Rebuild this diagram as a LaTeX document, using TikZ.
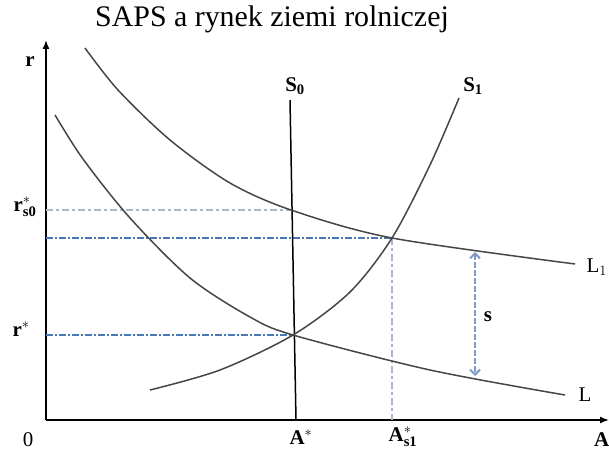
\documentclass[tikz,border=0pt]{standalone}
\usepackage{fontspec}
\setmainfont{Liberation Serif}
\usetikzlibrary{arrows.meta}

\definecolor{lightguide}{RGB}{169,184,204}
\definecolor{darkguide}{RGB}{74,120,176}
\definecolor{gapcol}{RGB}{127,155,196}
\definecolor{curvecol}{RGB}{70,70,70}

\tikzset{
	axis/.style={line width=1.5bp, -{Latex[length=9bp,width=7bp]}},
	curve/.style={line width=1.5bp, curvecol},
	guide/.style={line width=1.6bp, darkguide, dash pattern=on 7bp off 2bp on 2bp off 2bp},
	faintguide/.style={line width=2bp, lightguide, dash pattern=on 7bp off 3bp on 3bp off 3bp},
	lbl/.style={font=\fontsize{21}{24}\selectfont\bfseries, inner sep=0pt}
}

\begin{document}
\begin{tikzpicture}[x=1bp, y=-1bp]
		\useasboundingbox (0,0) rectangle (609,452);
		\node[font=\fontsize{30}{34}\selectfont, anchor=base] (title) at (272,27) {SAPS a rynek ziemi rolniczej};
		% axes
		\coordinate (o) at (46,420);
		\coordinate (ytop) at (46,40);
		\coordinate (xend) at (609,420);
		\draw[axis] (o) -- (ytop);
		\draw[axis] (o) -- (xend);
		% equilibria
		\coordinate (e0) at (293,335);
		\coordinate (e1) at (392,238);
		\coordinate (e2) at (291,210);
		\coordinate (y0) at (46,210);
		\coordinate (y1) at (46,238);
		\coordinate (y2) at (46,335);
		\coordinate (x1) at (392,420);
		\draw[faintguide] (y0) -- (e2);
		\draw[guide] (y1) -- (e1);
		\draw[guide] (y2) -- (e0);
		\draw[faintguide, line width=1.6bp] (e1) -- (x1);
		% supply
		\coordinate (s0top) at (290,100);
		\coordinate (s0bot) at (296,420);
		\draw[curve, black] (s0top) -- (s0bot);
		\draw[curve] plot[smooth] coordinates {(150,390) (220,370) (e0) (350,292) (e1) (430,165) (459,98)};
		% demand
		\draw[curve] plot[smooth] coordinates {(85,48) (118,90) (170,140) (230,183) (e2) (e1) (575,264)};
		\draw[curve] plot[smooth] coordinates {(55,115) (83,159) (130,218) (190,278) (250,317) (e0) (430,370) (565,395)};
		% subsidy gap
		\coordinate (gtop) at (475,252);
		\coordinate (gbot) at (475,376);
		\draw[gapcol, line width=2bp, dash pattern=on 6bp off 2bp, {Straight Barb[length=5bp,width=10bp]}-{Straight Barb[length=5bp,width=10bp]}] (gtop) -- (gbot);
		% labels
		\node[lbl] (r) at (30,62) {r};
		\node[lbl] (rs0) at (25,207) {r$_{\mathbf{s0}}^{*}$};
		\node[lbl] (rst) at (21,329) {r$^{*}$};
		\node[lbl, font=\fontsize{21}{24}\selectfont] (zero) at (28,440) {0};
		\node[lbl] (ast) at (301,437) {A$^{*}$};
		\node[lbl] (as1) at (403,437) {A$_{\mathbf{s1}}^{*}$};
		\node[lbl, anchor=west] (a) at (594,440) {A};
		\node[lbl] (s0) at (295,86) {S$_{\mathbf{0}}$};
		\node[lbl] (s1) at (473,86) {S$_{\mathbf{1}}$};
		\node[lbl, anchor=east, font=\fontsize{21}{24}\selectfont] (l1) at (607,267) {L$_1$};
		\node[lbl, font=\fontsize{21}{24}\selectfont] (l) at (585,395) {L};
		\node[lbl] (s) at (488,317) {s};
	\end{tikzpicture}
\end{document}
